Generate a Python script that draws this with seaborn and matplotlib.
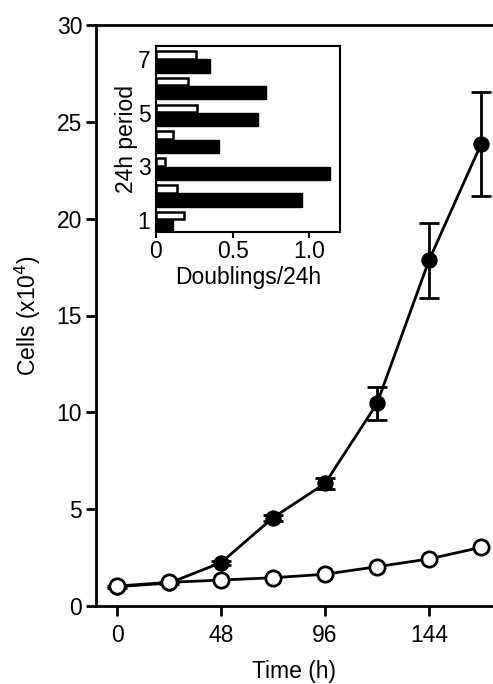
import matplotlib
matplotlib.use("Agg")
import matplotlib.pyplot as plt
import seaborn as sns
import pandas as pd

# growth curve (cells x10^4)
time_h = [0, 24, 48, 72, 96, 120, 144, 168]
cells_filled = [1.0, 1.18, 2.24, 4.56, 6.33, 10.46, 17.86, 23.85]
cells_filled_err = [0.05, 0.05, 0.1, 0.15, 0.3, 0.86, 1.94, 2.67]
cells_open = [1.03, 1.22, 1.34, 1.46, 1.64, 2.03, 2.43, 3.03]

# inset: doublings per 24h period
periods = [1, 2, 3, 4, 5, 6, 7]
doublings_filled = [0.11, 0.955, 1.135, 0.41, 0.667, 0.715, 0.35]
doublings_open = [0.18, 0.14, 0.06, 0.11, 0.27, 0.21, 0.26]

sns.set_theme(style="ticks")
plt.rcParams['font.family'] = ['Liberation Sans', 'DejaVu Sans']
plt.rcParams.update({"text.color": "black", "axes.labelcolor": "black",
                     "xtick.color": "black", "ytick.color": "black"})
FS = 16.5

fig = plt.figure(figsize=(4.93, 6.84), dpi=100)
ax = fig.add_axes([96/493, 1 - 606/684, 1 - 96/493, (606 - 25)/684])

df = pd.DataFrame({"time": time_h, "filled": cells_filled, "open": cells_open})

sns.lineplot(data=df, x="time", y="filled", ax=ax, color="black", linewidth=2,
             marker="o", markersize=11, markerfacecolor="black",
             markeredgecolor="black", zorder=3)
ax.errorbar(time_h, cells_filled, yerr=cells_filled_err, fmt="none",
            ecolor="black", elinewidth=2, capsize=7, capthick=2, zorder=2)
sns.lineplot(data=df, x="time", y="open", ax=ax, color="black", linewidth=2,
             marker="o", markersize=11, markerfacecolor="white",
             markeredgecolor="black", markeredgewidth=2, zorder=4)

ax.set_xlim(-9.7, 173.5)
ax.set_ylim(0, 30)
ax.set_xticks([0, 48, 96, 144])
ax.set_yticks([0, 5, 10, 15, 20, 25, 30])
ax.set_xlabel("Time (h)", fontsize=FS, labelpad=9)
ax.set_ylabel("Cells (x10$^4$)", fontsize=FS, labelpad=10)
ax.tick_params(axis="both", labelsize=FS, length=7, width=2, direction="out",
               color="black", labelcolor="black", pad=3)
ax.tick_params(axis="x", pad=6)
for s in ["left", "bottom", "top"]:
    ax.spines[s].set_linewidth(2)
    ax.spines[s].set_color("black")
ax.spines["right"].set_visible(False)

# inset
ins = fig.add_axes([156/493, 1 - 232/684, (340 - 156)/493, (232 - 46)/684])
filled_y = [p - 0.5 for p in periods]
open_y = [p + 0.02 for p in periods]
ins.barh(filled_y, doublings_filled, height=0.49, align="edge",
         color="black", edgecolor="black", linewidth=1)
ins.barh(open_y, doublings_open, height=0.28, align="edge",
         color="white", edgecolor="black", linewidth=1.8)
ins.set_xlim(0, 1.2)
ins.set_ylim(0.55, 7.49)
ins.set_xticks([0, 0.5, 1.0])
ins.set_xticklabels(["0", "0.5", "1.0"])
ins.set_yticks([1, 3, 5, 7])
ins.set_xlabel("Doublings/24h", fontsize=FS, labelpad=2)
ins.set_ylabel("24h period", fontsize=FS, labelpad=0)
ins.tick_params(axis="both", labelsize=FS, length=4, width=1.5, color="black",
                labelcolor="black", pad=2)
ins.tick_params(axis="y", length=0, pad=4)
for s in ins.spines.values():
    s.set_linewidth(1.5)
    s.set_color("black")

fig.savefig("out.png", dpi=100)
